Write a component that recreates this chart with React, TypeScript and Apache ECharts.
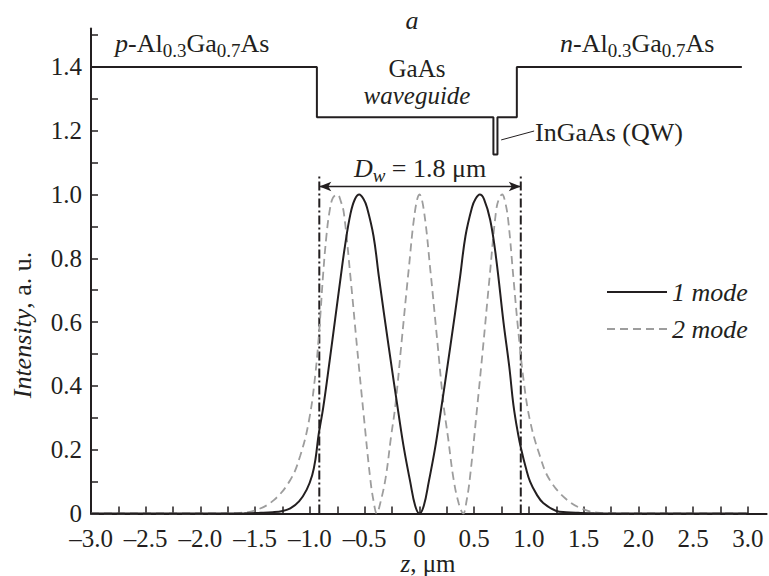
import React, { useEffect, useRef } from 'react';
import * as echarts from 'echarts';

const FONT = 'Liberation Serif';
const INK = '#231f20';
const GREY = '#9d9d9d';

// tick positions / labels
const xLabelValues = [-3, -2.5, -2, -1.5, -1, -0.5, 0, 0.5, 1, 1.5, 2, 2.5, 3];
const xTickValues = [-3, -2.75, -2.5, -2.25, -2, -1.75, -1.5, -1.25, -1, -0.75, -0.5, -0.25, 0, 0.25, 0.5, 0.75, 1, 1.25, 1.5, 1.75, 2, 2.25, 2.5, 2.75, 3];
const yLabelValues = [0, 0.2, 0.4, 0.6, 0.8, 1.0, 1.2, 1.4];
const yTickValues = [0, 0.1, 0.2, 0.3, 0.4, 0.5, 0.6, 0.7, 0.8, 0.9, 1.0, 1.1, 1.2, 1.3, 1.4, 1.5];

// mode 1 (solid)
const mode1Z = [-3.0, -2.0, -1.6, -1.45, -1.34, -1.25, -1.18, -1.1, -1.03, -0.98, -0.95, -0.92, -0.88, -0.82, -0.77, -0.72, -0.68, -0.63, -0.59, -0.55, -0.51, -0.48, -0.42, -0.37, -0.28, -0.19, -0.14, -0.085, -0.04, 0,
  0.04, 0.085, 0.14, 0.19, 0.28, 0.37, 0.42, 0.48, 0.51, 0.55, 0.59, 0.646, 0.7, 0.767, 0.82, 0.858, 0.9, 0.93, 0.97, 1.01, 1.07, 1.13, 1.25, 1.34, 1.45, 1.6, 2.0, 3.0];
const mode1I = [0, 0, 0.0005, 0.002, 0.004, 0.008, 0.016, 0.038, 0.075, 0.12, 0.17, 0.25, 0.33, 0.48, 0.61, 0.74, 0.84, 0.94, 0.985, 1.0, 0.985, 0.96, 0.87, 0.74, 0.52, 0.31, 0.2, 0.1, 0.025, 0,
  0.025, 0.1, 0.2, 0.31, 0.52, 0.74, 0.87, 0.96, 0.985, 1.0, 0.985, 0.92, 0.8, 0.6, 0.46, 0.34, 0.25, 0.2, 0.145, 0.1, 0.06, 0.033, 0.008, 0.004, 0.002, 0.0005, 0, 0];

// mode 2 (dashed)
const mode2Z = [-3.0, -2.0, -1.8, -1.64, -1.49, -1.33, -1.18, -1.09, -1.01, -0.95, -0.91, -0.88, -0.85, -0.82, -0.79, -0.75, -0.72, -0.69, -0.63, -0.57, -0.51, -0.45, -0.42, -0.39, -0.36, -0.31, -0.26, -0.22, -0.16, -0.1, -0.04, 0,
  0.04, 0.1, 0.16, 0.22, 0.26, 0.31, 0.36, 0.4, 0.43, 0.46, 0.52, 0.58, 0.64, 0.7, 0.73, 0.755, 0.78, 0.81, 0.86, 0.9, 0.95, 1.01, 1.1, 1.19, 1.35, 1.5, 1.65, 1.8, 2.0, 3.0];
const mode2I = [0, 0, 0.0005, 0.002, 0.011, 0.042, 0.105, 0.18, 0.29, 0.44, 0.6, 0.75, 0.87, 0.95, 0.99, 1.0, 0.98, 0.94, 0.74, 0.52, 0.31, 0.11, 0.04, 0, 0.03, 0.11, 0.24, 0.34, 0.55, 0.76, 0.95, 1.0,
  0.95, 0.76, 0.55, 0.34, 0.24, 0.11, 0.03, 0, 0.04, 0.11, 0.31, 0.52, 0.74, 0.95, 0.99, 1.0, 0.98, 0.92, 0.73, 0.58, 0.42, 0.29, 0.18, 0.105, 0.042, 0.013, 0.002, 0.0005, 0, 0];

// band profile (scaled)
const bandZ = [-3.0, -0.937, -0.937, 0.675, 0.675, 0.712, 0.712, 0.889, 0.889, 2.944];
const bandE = [1.4, 1.4, 1.242, 1.242, 1.125, 1.125, 1.242, 1.242, 1.4, 1.4];

// waveguide boundaries and annotations
const boundaryZ = [-0.915, 0.925];
const boundaryTop = 1.065;
const arrowLevel = 1.025;
const qwLeaderZ = [0.746, 1.047];
const qwLeaderE = [1.171, 1.199];

const legendNames = ['1 mode', '2 mode'];

const zip = (a: number[], b: number[]) => a.map((v, i) => [v, b[i]]);

const fmt = (v: number) => {
  if (Math.abs(v) < 1e-9) return '0';
  const s = Math.abs(v).toFixed(1);
  return v < 0 ? '\u2013' + s : s;
};

const richBase = {
  n: { fontFamily: FONT, fontSize: 26, color: INK },
  i: { fontFamily: FONT, fontSize: 26, fontStyle: 'italic', color: INK },
  s: { fontFamily: FONT, fontSize: 19, color: INK, padding: [14, 0, 0, 0] },
  si: { fontFamily: FONT, fontSize: 19, fontStyle: 'italic', color: INK, padding: [14, 0, 0, 0] },
};

function txt(x: number, y: number, text: string, align: string = 'left', extra: any = {}, styleExtra: any = {}) {
  return {
    type: 'text',
    x,
    y,
    silent: true,
    ...extra,
    style: {
      text,
      rich: richBase,
      fontFamily: FONT,
      fontSize: 26,
      fill: INK,
      align,
      verticalAlign: 'middle',
      ...styleExtra,
    },
  };
}

export default function App() {
  const ref = useRef<HTMLDivElement>(null);
  useEffect(() => {
    const chart = echarts.init(ref.current!, null, { renderer: 'svg' });
    const option: any = {
      animation: false,
      backgroundColor: '#fff',
      grid: { left: 91, right: 2.4, top: 28.6, bottom: 62.5, containLabel: false },
      xAxis: {
        type: 'value',
        min: -3,
        max: 3.17,
        axisLine: { show: true, onZero: false, lineStyle: { color: INK, width: 2 } },
        axisTick: { show: true, inside: true, length: 7, customValues: xTickValues, lineStyle: { color: INK, width: 1.5 } },
        axisLabel: { customValues: xLabelValues, formatter: fmt, fontFamily: FONT, fontSize: 25, lineHeight: 22, color: INK, margin: 14 },
        splitLine: { show: false },
      },
      yAxis: {
        type: 'value',
        min: 0,
        max: 1.52,
        axisLine: { show: true, onZero: false, lineStyle: { color: INK, width: 2 } },
        axisTick: { show: true, inside: true, length: 7, customValues: yTickValues, lineStyle: { color: INK, width: 1.5 } },
        axisLabel: { customValues: yLabelValues, formatter: fmt, fontFamily: FONT, fontSize: 25, lineHeight: 22, color: INK, margin: 9 },
        splitLine: { show: false },
      },
      series: [
        {
          type: 'line', name: 'band', data: zip(bandZ, bandE), showSymbol: false, symbol: 'none', silent: true,
          lineStyle: { color: INK, width: 2 },
        },
        {
          type: 'line', name: 'bl', data: [[boundaryZ[0], 0], [boundaryZ[0], boundaryTop]], showSymbol: false, symbol: 'none', silent: true,
          lineStyle: { color: INK, width: 2, type: [9, 3, 2, 3] },
          markLine: {
            silent: true,
            symbol: ['arrow', 'arrow'],
            symbolSize: [7, 12],
            label: { show: false },
            lineStyle: { color: INK, width: 1.3, type: 'solid' },
            data: [[{ coord: [boundaryZ[0], arrowLevel] }, { coord: [boundaryZ[1], arrowLevel] }]],
          },
        },
        {
          type: 'line', name: 'br', data: [[boundaryZ[1], 0], [boundaryZ[1], boundaryTop]], showSymbol: false, symbol: 'none', silent: true,
          lineStyle: { color: INK, width: 2, type: [9, 3, 2, 3] },
        },
        {
          type: 'line', name: 'leader', data: zip(qwLeaderZ, qwLeaderE), showSymbol: false, symbol: 'none', silent: true,
          lineStyle: { color: INK, width: 1 },
        },
        {
          type: 'line', name: legendNames[1], data: zip(mode2Z, mode2I), showSymbol: false, symbol: 'none', smooth: 0.4,
          lineStyle: { color: GREY, width: 1.8, type: [8, 5] },
          itemStyle: { color: GREY },
        },
        {
          type: 'line', name: legendNames[0], data: zip(mode1Z, mode1I), showSymbol: false, symbol: 'none', smooth: 0.4,
          lineStyle: { color: INK, width: 2 },
          itemStyle: { color: INK },
        },
      ],
      graphic: [
        txt(412, 20, '{i|a}', 'center'),
        txt(115, 43, '{i|p}{n|-Al}{s|0.3}{n|Ga}{s|0.7}{n|As}'),
        txt(560, 43, '{i|n}{n|-Al}{s|0.3}{n|Ga}{s|0.7}{n|As}'),
        txt(417, 68, '{n|GaAs}', 'center', {}, { rich: { n: { fontFamily: FONT, fontSize: 25, lineHeight: 22, color: INK } } }),
        txt(417, 95, '{i|waveguide}', 'center', {}, { rich: { i: { fontFamily: FONT, fontSize: 25, fontStyle: 'italic', lineHeight: 24, color: INK } } }),
        txt(535, 132, '{n|InGaAs (QW)}'),
        txt(420, 168, '{i|D}{si|w}{n| = 1.8 \u03bcm}', 'center'),
        txt(428, 563.5, '{i|z}{n|, \u03bcm}', 'center', {}, { rich: {
          n: { fontFamily: FONT, fontSize: 25, lineHeight: 22, color: INK },
          i: { fontFamily: FONT, fontSize: 25, fontStyle: 'italic', lineHeight: 22, color: INK },
        } }),
        txt(22, 325, '{i|Intensity}{n|, a. u.}', 'center', { rotation: Math.PI / 2 }),
        // legend
        { type: 'line', silent: true, shape: { x1: 607, y1: 292, x2: 667, y2: 292 }, style: { stroke: INK, lineWidth: 2 } },
        { type: 'line', silent: true, shape: { x1: 607, y1: 329, x2: 667, y2: 329 }, style: { stroke: GREY, lineWidth: 1.8, lineDash: [8, 5] } },
        txt(672, 292, '{i|' + legendNames[0] + '}'),
        txt(672, 329, '{i|' + legendNames[1] + '}'),
      ],
    };
    chart.setOption(option);
    return () => chart.dispose();
  }, []);
  return (
    <div
      ref={ref}
      style={{ position: 'fixed', left: 0, top: 0, width: 769, height: 576, background: '#fff' }}
    />
  );
}
